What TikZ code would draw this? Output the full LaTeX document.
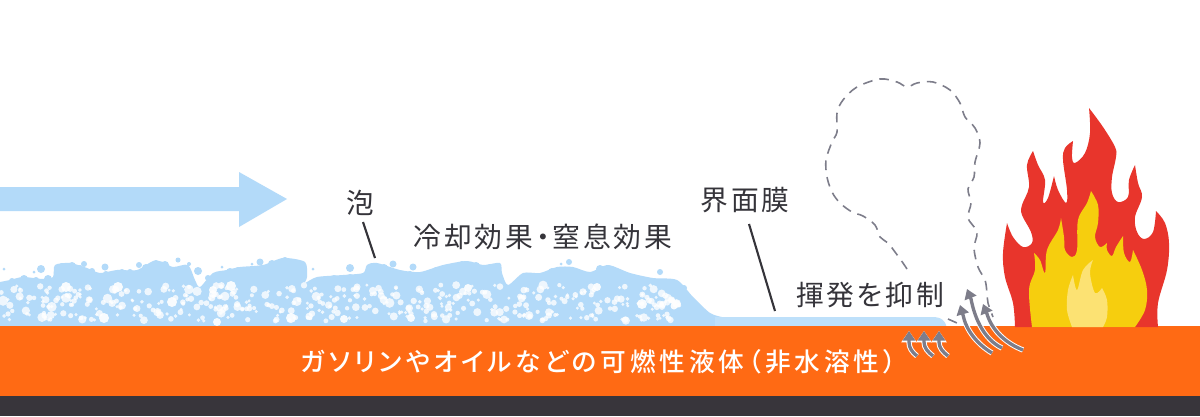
\documentclass[tikz,border=0pt]{standalone}
\usepackage{fontspec}
\usetikzlibrary{arrows.meta}
\setmainfont{Noto Sans CJK JP}
\newfontfamily\labelfont[LetterSpace=10,RawFeature=+palt]{Noto Sans CJK JP}
\newfontfamily\bandfont[LetterSpace=15,RawFeature=+palt]{Noto Sans CJK JP Medium}
\definecolor{foamblue}{HTML}{B3DAF9}
\definecolor{filmblue}{HTML}{BEE0FA}
\definecolor{fuel}{HTML}{FF6A14}
\definecolor{ground}{HTML}{38353B}
\definecolor{ink}{HTML}{35343A}
\definecolor{vapour}{HTML}{7D7D8A}
\definecolor{flamered}{HTML}{E8352C}
\definecolor{flameyellow}{HTML}{F6CE0E}
\definecolor{flamepale}{HTML}{FCE273}
\tikzset{
  caption/.style={font=\labelfont\fontsize{15.8}{17}\selectfont, text=ink, inner sep=0pt},
  leader/.style={draw=ink, line width=1.2pt},
  smoke/.style={draw=vapour, line width=0.9pt, dash pattern=on 5.5pt off 4pt},
  risehalo/.style={draw=white, line width=3pt, -{Triangle[length=6.5pt,width=8.5pt]}},
  riseline/.style={draw=vapour, line width=1.9pt, -{Triangle[length=5.5pt,width=7pt]}},
}
% one vapour arrow: a pale halo under a grey shaft that curves up to a straight neck
\newcommand{\risearrow}[5]{%
  \draw[risehalo] (#1) .. controls (#2) and (#3) .. (#4) -- (#5);
  \draw[riseline] (#1) .. controls (#2) and (#3) .. (#4) -- (#5);
}
\begin{document}
\begin{tikzpicture}[x=0.02cm,y=-0.02cm]
\useasboundingbox (0,0) rectangle (1200,416);
\fill[white] (0,0) rectangle (1200,416);

% flow arrow
\fill[foamblue] (0,187) -- (239,187) -- (239,172) -- (287,199) -- (239,227) -- (239,211) -- (0,211) -- cycle;

% foam blanket and thin film
\fill[foamblue] (0,330) -- plot[smooth,tension=0.45] coordinates {
  (0,282) (10,280) (23,277) (43,279) (53,277) (55,265) (70,263) (87,268) (100,273)
  (117,270) (137,270) (153,261) (163,262) (173,267) (188,265) (195,280) (200,287)
  (213,273) (227,270) (240,267) (263,265) (283,258) (305,262) (307,277) (305,283)
  (317,277) (343,275) (363,273) (367,265) (377,263) (400,270) (420,272) (443,265)
  (467,261) (483,265) (500,263) (502,273) (508,285) (523,273) (540,273) (557,267)
  (573,267) (590,272) (608,265) (630,273) (653,278) (677,280) (693,297) (710,313)
  (722,317)} -- (722,330) -- cycle;
\fill[filmblue] (715,317) -- (932,317) .. controls (941,317) and (946,320) .. (947,330) -- (715,330) -- cycle;
% lumps along the crest of the foam
\foreach \x/\y/\r in {12/281/3,24/279/4,36/280/3,48/279/4,62/267/4,72/266/4,80/268/3,92/271/3,
  106/274/3,122/272/3,130/272/3,146/268/4,156/264/4,165/265/4,176/270/3,186/268/3,
  218/276/4,230/272/4,238/270/3,248/270/3,262/268/3,272/264/4,285/262/5,296/265/4,
  322/280/3,334/278/3,350/277/3,372/267/4,384/268/4,392/272/3,410/274/3,426/274/3,
  436/270/3,450/268/4,462/265/4,476/266/4,490/268/4,494/267/3,526/276/3,536/276/3,
  552/272/4,566/271/4,582/274/3,600/269/4,612/269/3,624/275/3,640/279/3,665/283/3,684/288/3}
  \fill[foamblue] (\x,\y) circle[radius=\r];
\foreach \x/\y/\r in {41/269/4,84/264/3,105/267/3.5,139/265/3,178/260/2.5,189/264/2,198/271/4,
  208/278/3,260/262/3.5,222/267/1.5,252/264/1.5,313/269/1.5,350/268/4,393/264/3.5,34/272/1.5,
  4/269/1.5,413/267/3.5,569/262/3,561/264/1.5,660/272/3}
  \fill[foamblue] (\x,\y) circle[radius=\r];

% bubbles inside the foam
\pgfmathsetseed{417}
\foreach \i in {1,...,460}{
  \pgfmathsetmacro{\bx}{rnd*680}
  \pgfmathsetmacro{\by}{max(285+rnd*36, 285+max(\bx-650,0)*0.7)}
  \pgfmathsetmacro{\br}{1.6+rnd*rnd*3.6}
  \fill[white,opacity=0.78] (\bx,\by) circle[radius=\br];
}
\foreach \x/\y/\r in {66/287/5,118/287/5,172/302/5,213/290/4,231/286/5,104/318/5,217/322/4,
  291/318/5,344/319/4,468/288/4,411/318/4,597/287/4,642/304/5,674/306/3.5}
  \fill[white,opacity=0.9] (\x,\y) circle[radius=\r];

% liquid layer and ground
\fill[fuel] (0,326) rectangle (1200,396);
\fill[ground] (0,396) rectangle (1200,416);

% outer flame
\fill[flamered]
  plot[smooth,tension=0.6] coordinates {(1015,327) (1013,303) (1005,277) (1003,253) (1007,223)}
  -- plot[smooth,tension=0.6] coordinates {(1007,223) (1013,237) (1023,247) (1032,243) (1031,232) (1022,215) (1022,205) (1029,187) (1027,165) (1033,151)}
  -- plot[smooth,tension=0.6] coordinates {(1033,151) (1038,165) (1045,180) (1043,202) (1048,198) (1054,176)}
  -- plot[smooth,tension=0.6] coordinates {(1054,176) (1058,190) (1066,203) (1067,190) (1063,160) (1065,148) (1073,141)}
  -- plot[smooth,tension=0.6] coordinates {(1073,141) (1072,157) (1075,163) (1085,153) (1090,133) (1089,108)}
  -- plot[smooth,tension=0.6] coordinates {(1089,108) (1103,127) (1115,147) (1116,157) (1112,177) (1112,193) (1118,202) (1128,197) (1129,180) (1135,165)}
  -- plot[smooth,tension=0.6] coordinates {(1135,165) (1138,183) (1142,197) (1135,217) (1137,232) (1144,239) (1153,232) (1156,211)}
  -- plot[smooth,tension=0.6] coordinates {(1156,211) (1165,223) (1169,243) (1167,270) (1158,303) (1158,327)}
  -- cycle;
% inner flame
\fill[flameyellow]
  plot[smooth,tension=0.6] coordinates {(1032,327) (1029,290) (1035,270) (1034,253)}
  -- plot[smooth,tension=0.6] coordinates {(1034,253) (1040,260) (1045,273) (1047,250) (1058,230) (1061,218)}
  -- plot[smooth,tension=0.6] coordinates {(1061,218) (1064,237) (1065,250) (1072,257) (1077,250) (1078,220) (1087,203) (1091,191)}
  -- plot[smooth,tension=0.6] coordinates {(1091,191) (1098,205) (1098,223) (1095,237) (1100,247) (1107,243)}
  -- plot[smooth,tension=0.6] coordinates {(1107,243) (1107,250) (1112,256) (1116,247) (1123,236)}
  -- plot[smooth,tension=0.6] coordinates {(1123,236) (1124,253) (1130,262) (1133,250)}
  -- plot[smooth,tension=0.6] coordinates {(1133,250) (1142,270) (1147,290) (1145,310) (1135,327)}
  -- cycle;
% flame core
\fill[flamepale]
  plot[smooth,tension=0.6] coordinates {(1072,327) (1067,310) (1068,290) (1073,275)}
  -- plot[smooth,tension=0.6] coordinates {(1073,275) (1077,290) (1083,270) (1093,260)}
  -- plot[smooth,tension=0.6] coordinates {(1093,260) (1090,273) (1095,293) (1102,288)}
  -- plot[smooth,tension=0.6] coordinates {(1102,288) (1107,300) (1107,317) (1103,327)}
  -- cycle;

% smoke outline
\draw[smoke] plot[smooth,tension=0.55] coordinates {
  (907,269) (903,263) (895,252) (888,243) (880,237) (875,225) (863,216) (852,212)
  (840,203) (832,192) (827,177) (826,160) (832,142) (837,132) (837,113) (843,100)
  (857,87) (880,79) (897,82) (907,87) (917,83) (933,82) (950,90) (960,103) (965,117)
  (975,128) (980,143) (975,162) (974,177) (968,189) (971,203) (968,218) (977,232)
  (974,248) (978,267) (985,280) (987,293) (988,303) (993,317)};
\draw[smoke] (948,319) -- (957,323);

% rising vapour
\risearrow{992,353}{977,344}{966,330}{963,315}{960,305}
\risearrow{1002,348}{985,340}{975,320}{971,299}{967,289}
\risearrow{1023,350}{1005,343}{992,330}{987,314}{983,304}
\risearrow{917,356}{912,352}{909,348}{909,342}{909,331}
\risearrow{933,356}{928,352}{924,348}{924,342}{924,331}
\risearrow{948,356}{943,352}{939,348}{939,342}{939,331}

% captions
\node[caption] (foam) at (360,203) {泡};
\node[caption] (effect) at (543,237) {冷却効果・窒息効果};
\node[caption] (film) at (745,200) {界面膜};
\node[caption] (suppress) at (870,295) {揮発を抑制};
\node[inner sep=0pt,text=white,font=\bandfont\fontsize{14.6}{16}\selectfont] (liquid) at (598.5,362)
  {ガソリンやオイルなどの可燃性液体（非水溶性）};

% leader lines
\coordinate (foamtop) at (363,222);
\coordinate (foamend) at (375,258);
\coordinate (filmtop) at (749,224);
\coordinate (filmend) at (775,311);
\draw[leader] (foamtop) -- (foamend);
\draw[leader] (filmtop) -- (filmend);
\end{tikzpicture}
\end{document}
